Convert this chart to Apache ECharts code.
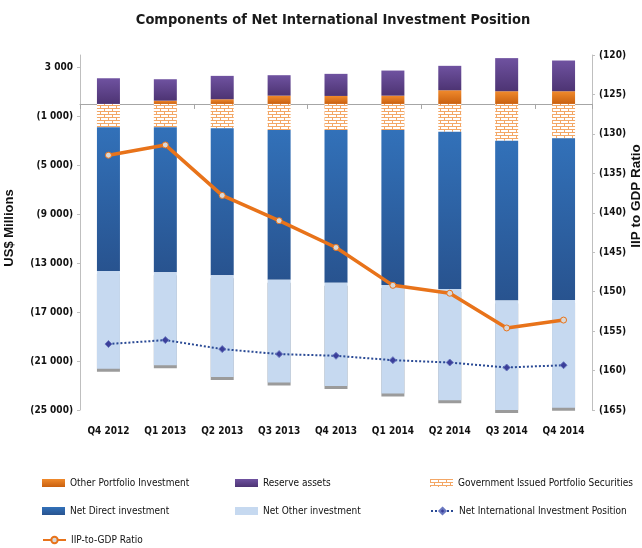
<!DOCTYPE html>
<html>
<head>
<meta charset="utf-8">
<script src="https://cdn.jsdelivr.net/npm/echarts@6/dist/echarts.min.js"></script>
<style>
html,body{margin:0;padding:0;background:#fff;}
#chart{width:642px;height:548px;}
</style>
</head>
<body>
<div id="chart"></div>
<script>
// ---- data ----
var categories = ['Q4 2012','Q1 2013','Q2 2013','Q3 2013','Q4 2013','Q1 2014','Q2 2014','Q3 2014','Q4 2014'];
var otherPortfolio = [0, 270, 385, 680, 655, 680, 1120, 1040, 1040];
var reserveAssets = [2100, 1750, 1910, 1670, 1805, 2050, 1995, 2705, 2510];
var govSecurities = [-1900, -1900, -1990, -2130, -2130, -2130, -2270, -3005, -2810];
var netDirect = [-11750, -11840, -12000, -12240, -12480, -12650, -12840, -13060, -13200];
var netOther = [-7990, -7600, -8310, -8390, -8420, -8880, -9090, -9000, -8800];
var niip = [-19610, -19290, -20025, -20435, -20570, -20930, -21120, -21530, -21340];
var iipGdp = [-132.7, -131.4, -137.8, -141.0, -144.4, -149.2, -150.2, -154.6, -153.6];
var leftTicks = [-25000, -21000, -17000, -13000, -9000, -5000, -1000, 3000];

var FONT = '"DejaVu Sans Condensed", "Liberation Sans Narrow", sans-serif';

function fmtThousands(n) {
  var s = String(Math.round(n));
  return s.replace(/\B(?=(\d{3})+(?!\d))/g, ' ');
}
function leftFmt(v) {
  return v < 0 ? '(' + fmtThousands(-v) + ')' : fmtThousands(v);
}

// brick pattern for government securities
var pc = document.createElement('canvas');
pc.width = 8; pc.height = 6;
var ctx = pc.getContext('2d');
ctx.fillStyle = '#ffffff';
ctx.fillRect(0, 0, 8, 6);
ctx.fillStyle = '#f3a766';
ctx.fillRect(0, 0, 8, 1);
ctx.fillRect(0, 3, 8, 1);
ctx.fillRect(0, 0, 1, 3);
ctx.fillRect(4, 3, 1, 3);
var brick = { image: pc, repeat: 'repeat' };

function vgrad(a, b) {
  return new echarts.graphic.LinearGradient(0, 0, 0, 1, [{offset: 0, color: a}, {offset: 1, color: b}]);
}

var chart = echarts.init(document.getElementById('chart'), null, {renderer: 'canvas'});

var legendText = { fontFamily: FONT, fontSize: 10, color: '#111' };
function lg(name, left, top, icon) {
  var d = {name: name};
  if (icon) d.icon = icon;
  return { left: left, top: top, itemWidth: 23, itemHeight: 8, itemGap: 0, padding: 0,
           textStyle: legendText, data: [d] };
}

var option = {
  animation: false,
  backgroundColor: '#ffffff',
  title: {
    text: 'Components of Net International Investment Position',
    left: 328, top: 8, textAlign: 'center',
    textStyle: { fontFamily: FONT, fontWeight: 'bold', fontSize: 14.5, color: '#1a1a1a' }
  },
  grid: { left: 80, right: 50, top: 55, bottom: 138, containLabel: false },
  legend: [
    lg('Other Portfolio Investment', 42, 478, 'rect'),
    lg('Reserve assets', 235, 478, 'rect'),
    lg('Government Issued Portfolio Securities', 430, 478, 'rect'),
    lg('Net Direct investment', 42, 506, 'rect'),
    lg('Net Other investment', 235, 506, 'rect'),
    lg('Net International Investment Position', 430, 506),
    lg('IIP-to-GDP Ratio', 42, 535)
  ],
  xAxis: [
    {
      type: 'category', data: categories, position: 'bottom',
      axisLine: { show: false, onZero: false },
      axisTick: { show: false },
      axisLabel: { fontFamily: FONT, fontWeight: 'bold', fontSize: 10, color: '#111', margin: 16 }
    },
    {
      type: 'category', data: categories, position: 'bottom',
      axisLine: { show: true, onZero: true, onZeroAxisIndex: 0, lineStyle: { color: '#a6a6a6', width: 1 } },
      axisTick: { show: true, length: 5, lineStyle: { color: '#a6a6a6' } },
      axisLabel: { show: false }
    }
  ],
  yAxis: [
    {
      type: 'value', min: -25000, max: 4000, position: 'left',
      splitLine: { show: false },
      axisLine: { show: true, lineStyle: { color: '#bfbfbf' } },
      axisTick: { show: true, length: 3, customValues: leftTicks, lineStyle: { color: '#bfbfbf' } },
      axisLabel: { customValues: leftTicks, formatter: leftFmt, fontFamily: FONT, fontWeight: 'bold', fontSize: 10, color: '#111', margin: 7 }
    },
    {
      type: 'value', min: -165, max: -120, interval: 5, position: 'right',
      splitLine: { show: false },
      axisLine: { show: true, lineStyle: { color: '#bfbfbf' } },
      axisTick: { show: true, length: 3, lineStyle: { color: '#bfbfbf' } },
      axisLabel: { formatter: function (v) { return '(' + (-v) + ')'; }, fontFamily: FONT, fontWeight: 'bold', fontSize: 10, color: '#111', margin: 7 }
    }
  ],
  graphic: [
    { type: 'text', x: 9, y: 228, rotation: Math.PI / 2,
      style: { text: 'US$ Millions', fontFamily: '"Liberation Sans", Arial, sans-serif', fontWeight: 'bold', fontSize: 13, fill: '#111', align: 'center', verticalAlign: 'middle' } },
    { type: 'text', x: 636, y: 196, rotation: Math.PI / 2,
      style: { text: 'IIP to GDP Ratio', fontFamily: '"Liberation Sans", Arial, sans-serif', fontWeight: 'bold', fontSize: 13.5, fill: '#111', align: 'center', verticalAlign: 'middle' } }
  ],
  series: [
    { name: 'Other Portfolio Investment', type: 'bar', stack: 'c', barWidth: 23, data: otherPortfolio,
      itemStyle: { color: vgrad('#f08a2c', '#c9600f') } },
    { name: 'Reserve assets', type: 'bar', stack: 'c', barWidth: 23, data: reserveAssets,
      itemStyle: { color: vgrad('#6f52a0', '#4d3473') } },
    { name: 'Government Issued Portfolio Securities', type: 'bar', stack: 'c', barWidth: 23, data: govSecurities,
      itemStyle: { color: brick } },
    { name: 'Net Direct investment', type: 'bar', stack: 'c', barWidth: 23, data: netDirect,
      itemStyle: { color: vgrad('#3271b9', '#28538f') } },
    { name: 'Net Other investment', type: 'bar', stack: 'c', barWidth: 23, data: netOther,
      itemStyle: { color: '#c6d9f0', shadowColor: '#9b9b9b', shadowOffsetY: 3, shadowBlur: 0 } },
    { name: 'Net International Investment Position', type: 'line', data: niip, z: 5,
      symbol: 'diamond', symbolSize: 7,
      lineStyle: { color: '#2a4a95', width: 2, type: 'dotted' },
      itemStyle: { color: '#3b3f9a', borderColor: '#6a78c0', borderWidth: 1 } },
    { name: 'IIP-to-GDP Ratio', type: 'line', yAxisIndex: 1, data: iipGdp, z: 6,
      symbol: 'circle', symbolSize: 6,
      lineStyle: { color: '#e8731a', width: 3.5 },
      itemStyle: { color: '#d8d8d8', borderColor: '#e8731a', borderWidth: 1 } }
  ]
};
chart.setOption(option);
</script>
</body>
</html>
